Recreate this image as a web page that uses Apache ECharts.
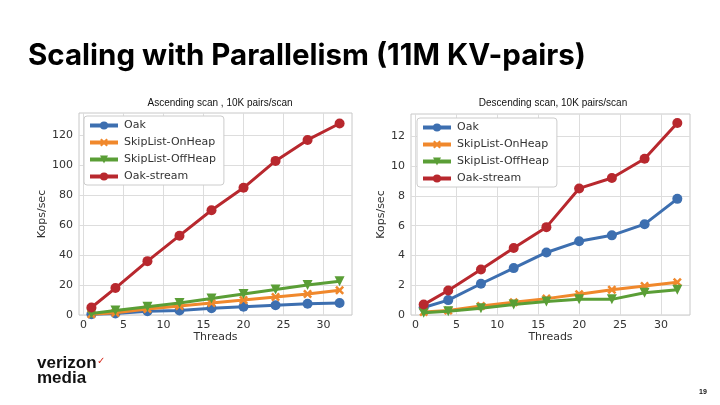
<!DOCTYPE html>
<html>
<head>
<meta charset="utf-8">
<script src="https://cdn.jsdelivr.net/npm/echarts@6/dist/echarts.min.js"></script>
<style>
  html, body { margin: 0; padding: 0; background: #fff; }
  #main { width: 720px; height: 405px; }
</style>
</head>
<body>
<div id="main"></div>
<script>
// 线程数
const threads = [1, 4, 8, 12, 16, 20, 24, 28, 32];
const seriesNames = ['Oak', 'SkipList-OnHeap', 'SkipList-OffHeap', 'Oak-stream'];

// 升序扫描 (Kops/sec)
const ascOak = [0.5, 1, 2.5, 3, 4.5, 5.5, 6.5, 7.5, 8];
const ascOnHeap = [0.5, 1.5, 4, 6, 8, 10, 12, 14, 16.5];
const ascOffHeap = [1, 3, 5.5, 8, 11, 14, 17, 20, 22.5];
const ascStream = [5, 18, 36, 53, 70, 85, 103, 117, 128];

// 降序扫描 (Kops/sec)
const descOak = [0.5, 1.0, 2.1, 3.15, 4.2, 4.95, 5.35, 6.1, 7.8];
const descOnHeap = [0.2, 0.3, 0.6, 0.85, 1.1, 1.4, 1.7, 1.95, 2.2];
const descOffHeap = [0.15, 0.25, 0.45, 0.7, 0.9, 1.05, 1.05, 1.5, 1.7];
const descStream = [0.7, 1.65, 3.05, 4.5, 5.9, 8.5, 9.2, 10.5, 12.9];

// 刻度
const xTicks = [0, 5, 10, 15, 20, 25, 30];
const ascYTicks = [0, 20, 40, 60, 80, 100, 120];
const descYTicks = [0, 2, 4, 6, 8, 10, 12];

const colors = ['#3d6fb0', '#f0882c', '#5a9e36', '#b8282e'];
const xMark = 'path://M2,0 L5,3 L8,0 L10,2 L7,5 L10,8 L8,10 L5,7 L2,10 L0,8 L3,5 L0,2 Z';
const symbols = ['circle', xMark, 'triangle', 'circle'];
const rotates = [0, 0, 180, 0];

const chart = echarts.init(document.getElementById('main'));

const pair = (ys) => threads.map((x, i) => [x, ys[i]]);

const makeSeries = (idx, lists) => lists.map((ys, k) => ({
    name: seriesNames[k],
    type: 'line',
    xAxisIndex: idx,
    yAxisIndex: idx,
    data: pair(ys),
    symbol: symbols[k],
    symbolRotate: rotates[k],
    symbolSize: k === 1 ? 9 : 10,
    showSymbol: true,
    color: colors[k],
    lineStyle: { width: 3, color: colors[k] },
    itemStyle: { color: colors[k] },
    z: 3 + k
}));

const tickFont = { fontFamily: 'DejaVu Sans', fontSize: 11, color: '#333' };

const makeX = (idx) => ({
    type: 'value',
    gridIndex: idx,
    min: -0.55,
    max: 33.55,
    name: 'Threads',
    nameLocation: 'middle',
    nameGap: 16,
    nameTextStyle: { fontFamily: 'DejaVu Sans', fontSize: 11, color: '#333' },
    axisLine: { show: false },
    axisTick: { show: false, customValues: xTicks },
    axisLabel: Object.assign({ customValues: xTicks, margin: 5 }, tickFont),
    splitLine: { show: true, lineStyle: { color: '#dddddd', width: 1 } }
});

const makeY = (idx, max, ticks) => ({
    type: 'value',
    gridIndex: idx,
    min: 0,
    max: max,
    name: 'Kops/sec',
    nameLocation: 'middle',
    nameRotate: 90,
    nameGap: idx === 0 ? 24 : 19,
    nameTextStyle: { fontFamily: 'DejaVu Sans', fontSize: 11, color: '#333' },
    axisLine: { show: false },
    axisTick: { show: false, customValues: ticks },
    axisLabel: Object.assign({ customValues: ticks, margin: 6 }, tickFont),
    splitLine: { show: true, lineStyle: { color: '#dddddd', width: 1 } }
});

const makeLegend = (left, top) => ({
    data: seriesNames,
    orient: 'vertical',
    left: left,
    top: top,
    itemWidth: 28,
    itemHeight: 10,
    itemGap: 6,
    padding: [4, 8, 3, 4],
    backgroundColor: '#fff',
    borderColor: '#cccccc',
    borderWidth: 1,
    borderRadius: 3,
    selectedMode: false,
    lineStyle: { width: 4 },
    textStyle: { fontFamily: 'DejaVu Sans', fontSize: 11, color: '#333', padding: [0, 0, 0, 1] }
});

const option = {
    backgroundColor: '#fff',
    animation: false,
    title: [
        {
            text: 'Scaling with Parallelism (11M KV-pairs)',
            left: 23,
            top: 36,
            textStyle: { fontFamily: 'Inter', fontWeight: 'bold', fontSize: 29.5, color: '#000' }
        },
        {
            text: 'Ascending scan , 10K pairs/scan',
            left: 215,
            textAlign: 'center',
            top: 93,
            textStyle: { fontFamily: 'Liberation Sans', fontWeight: 'normal', fontSize: 10, color: '#111' }
        },
        {
            text: 'Descending scan, 10K pairs/scan',
            left: 548,
            textAlign: 'center',
            top: 93,
            textStyle: { fontFamily: 'Liberation Sans', fontWeight: 'normal', fontSize: 10, color: '#111' }
        }
    ],
    grid: [
        { left: 79, top: 113, width: 273, height: 202, show: true, borderColor: '#c8c8c8', borderWidth: 1, backgroundColor: '#fff' },
        { left: 411, top: 114, width: 279, height: 201, show: true, borderColor: '#c8c8c8', borderWidth: 1, backgroundColor: '#fff' }
    ],
    legend: [makeLegend(84, 116), makeLegend(417, 118)],
    xAxis: [makeX(0), makeX(1)],
    yAxis: [makeY(0, 135, ascYTicks), makeY(1, 13.5, descYTicks)],
    series: [
        ...makeSeries(0, [ascOak, ascOnHeap, ascOffHeap, ascStream]),
        ...makeSeries(1, [descOak, descOnHeap, descOffHeap, descStream])
    ],
    graphic: [
        {
            type: 'text', left: 37, top: 355,
            style: { text: 'verizon', fontFamily: 'Liberation Sans', fontWeight: 'bold', fontSize: 17, fill: '#111' }
        },
        {
            type: 'text', left: 97, top: 356,
            style: { text: '✓', fontFamily: 'DejaVu Sans', fontSize: 10, fill: '#d52b1e' }
        },
        {
            type: 'text', left: 37, top: 370,
            style: { text: 'media', fontFamily: 'Liberation Sans', fontWeight: 'bold', fontSize: 17, fill: '#111' }
        },
        {
            type: 'text', left: 699, top: 389,
            style: { text: '19', fontFamily: 'Liberation Sans', fontWeight: 'bold', fontSize: 7, fill: '#111' }
        }
    ]
};

chart.setOption(option);
</script>
</body>
</html>
